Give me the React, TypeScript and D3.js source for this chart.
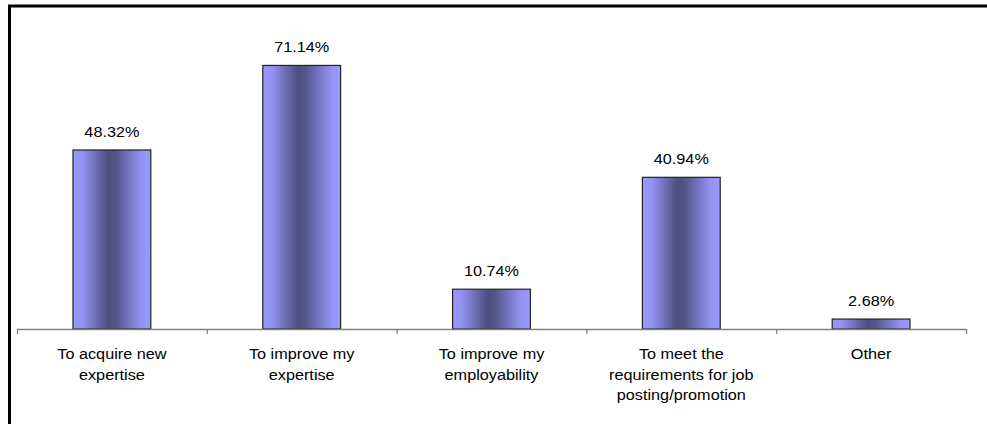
import React from "react";
import * as d3 from "d3";

const categories: string[][] = [
  ["To acquire new", "expertise"],
  ["To improve my", "expertise"],
  ["To improve my", "employability"],
  ["To meet the", "requirements for job", "posting/promotion"],
  ["Other"],
];
const values: number[] = [48.32, 71.14, 10.74, 40.94, 2.68];
const valueLabels: string[] = ["48.32%", "71.14%", "10.74%", "40.94%", "2.68%"];

const W = 987;
const H = 424;
const axisLeft = 17;
const axisRight = 966;
const baseY = 329;
const FONT = "'Liberation Sans', Arial, sans-serif";
const SX = 1.16;
const FS = 14;

export default function App() {
  const idx = categories.map((_, i) => String(i));
  const x = d3
    .scaleBand<string>()
    .domain(idx)
    .range([axisLeft, axisRight])
    .paddingInner(0.59)
    .paddingOuter(0.295);
  const band = d3.scaleBand<string>().domain(idx).range([axisLeft, axisRight]);
  const y = d3.scaleLinear().domain([0, 80]).range([baseY, baseY - 80 * 3.705]);

  const ticks = d3.range(categories.length + 1).map((i) => axisLeft + i * band.bandwidth());

  return (
    <svg
      width={W}
      height={H}
      style={{ position: "absolute", left: 0, top: 0, background: "#fff" }}
    >
      <defs>
        <linearGradient id="barGrad" x1="0" x2="1" y1="0" y2="0">
          <stop offset="0" stopColor="#9999FF" />
          <stop offset="0.12" stopColor="#9393F2" />
          <stop offset="0.45" stopColor="#4D4D7E" />
          <stop offset="0.55" stopColor="#55558A" />
          <stop offset="0.88" stopColor="#9393F2" />
          <stop offset="1" stopColor="#9999FF" />
        </linearGradient>
      </defs>
      <path d={`M9.5,${H} V6 H${W}`} fill="none" stroke="#000" strokeWidth={3} />

      {values.map((v, i) => (
        <rect
          key={"b" + i}
          x={x(String(i))!}
          y={y(v)}
          width={x.bandwidth()}
          height={baseY - y(v)}
          fill="url(#barGrad)"
          stroke="#222"
          strokeWidth={1.2}
        />
      ))}

      <line x1={axisLeft} x2={axisRight} y1={baseY + 0.5} y2={baseY + 0.5} stroke="#808080" strokeWidth={1.3} />
      {ticks.map((t, i) => (
        <line key={"t" + i} x1={t + 0.5} x2={t + 0.5} y1={baseY} y2={baseY + 5} stroke="#808080" strokeWidth={1.3} />
      ))}

      {values.map((v, i) => {
        const cx = x(String(i))! + x.bandwidth() / 2;
        return (
          <text
            key={"v" + i}
            transform={`translate(${cx},${y(v) - 13}) scale(${SX},1)`}
            textAnchor="middle"
            fontFamily={FONT}
            fontSize={FS}
            fill="#000"
          >
            {valueLabels[i]}
          </text>
        );
      })}

      {categories.map((lines, i) => {
        const cx = band(String(i))! + band.bandwidth() / 2;
        return lines.map((ln, j) => (
          <text
            key={"c" + i + "-" + j}
            transform={`translate(${cx},${359 + j * 20.5}) scale(${SX},1)`}
            textAnchor="middle"
            fontFamily={FONT}
            fontSize={FS}
            fill="#000"
          >
            {ln}
          </text>
        ));
      })}
    </svg>
  );
}
